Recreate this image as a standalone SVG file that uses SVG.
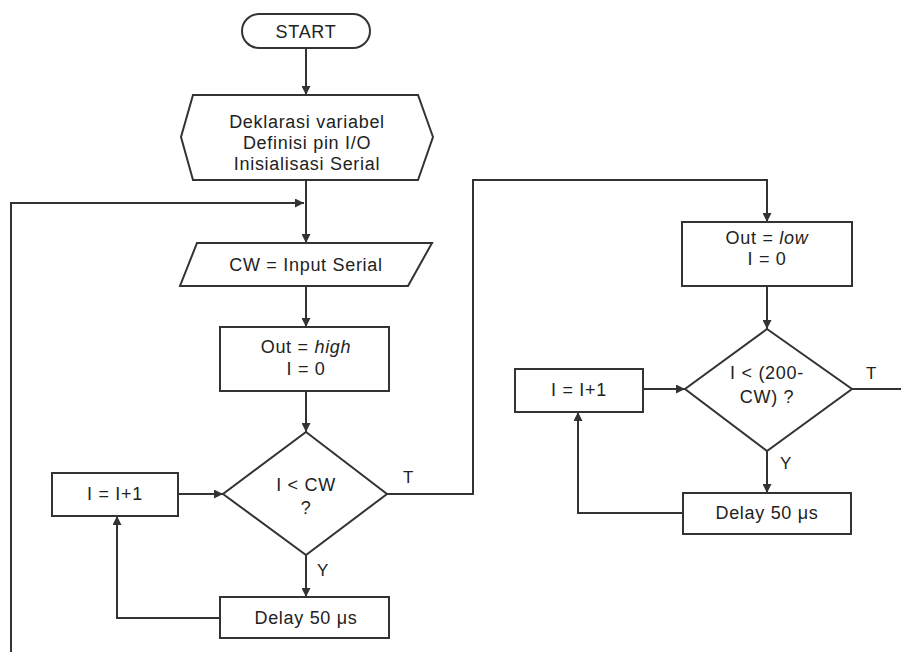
<svg xmlns="http://www.w3.org/2000/svg" width="901" height="652" viewBox="0 0 901 652">
<defs>
<marker id="ah" viewBox="0 0 10 10" refX="10" refY="5" markerWidth="10" markerHeight="9" markerUnits="userSpaceOnUse" orient="auto">
<path d="M0,0 L10,5 L0,10 z" fill="#333"/>
</marker>
<style>
.s{fill:#fff;stroke:#333;stroke-width:2}
.c{fill:none;stroke:#333;stroke-width:2}
.a{marker-end:url(#ah)}
text{font-family:"Liberation Sans",Arial,sans-serif;font-size:18px;fill:#222;text-anchor:middle;letter-spacing:0.7px}
.lb{font-size:17px;text-anchor:start}
</style>
</defs>
<rect width="901" height="652" fill="#fff"/>
<g id="connectors">
<line class="c a" x1="306" y1="48" x2="306" y2="95"/>
<line class="c a" x1="306" y1="180" x2="306" y2="243"/>
<polyline class="c a" points="11,652 11,203 304,203"/>
<line class="c a" x1="306" y1="286" x2="306" y2="327"/>
<line class="c a" x1="306" y1="391" x2="306" y2="432"/>
<line class="c a" x1="178" y1="494" x2="223" y2="494"/>
<line class="c a" x1="306" y1="555" x2="306" y2="597"/>
<polyline class="c a" points="220,618 117,618 117,516"/>
<polyline class="c a" points="387,494 473,494 473,180 767,180 767,222"/>
<line class="c a" x1="767" y1="286" x2="767" y2="329"/>
<line class="c a" x1="643" y1="389" x2="685" y2="389"/>
<line class="c a" x1="767" y1="451" x2="767" y2="493"/>
<polyline class="c a" points="683,513 578,513 578,412"/>
<line class="c" x1="852" y1="389" x2="901" y2="389"/>
<text class="lb" x="403" y="483">T</text>
<text class="lb" x="317" y="576">Y</text>
<text class="lb" x="866" y="379">T</text>
<text class="lb" x="780" y="469">Y</text>
</g>
<g id="start">
<rect class="s" x="242" y="14" width="128" height="34" rx="17"/>
<text x="306" y="38">START</text>
</g>
<g id="init">
<polygon class="s" points="193,95 418,95 433,137 418,180 193,180 181,137"/>
<text x="307" y="128">Deklarasi variabel</text>
<text x="307" y="149">Definisi pin I/O</text>
<text x="307" y="170">Inisialisasi Serial</text>
</g>
<g id="input">
<polygon class="s" points="197,243 432,243 408,286 180,286"/>
<text x="306" y="271">CW = Input Serial</text>
</g>
<g id="outhigh">
<rect class="s" x="220" y="327" width="169" height="64"/>
<text x="306" y="353">Out = <tspan font-style="italic">high</tspan></text>
<text x="306" y="375">I = 0</text>
</g>
<g id="dec1">
<polygon class="s" points="306,432 387,494 306,555 223,494"/>
<text x="306" y="491">I &lt; CW</text>
<text x="306" y="514">?</text>
</g>
<g id="inc1">
<rect class="s" x="52" y="473" width="126" height="43"/>
<text x="115" y="500">I = I+1</text>
</g>
<g id="delay1">
<rect class="s" x="220" y="597" width="169" height="41"/>
<text x="306" y="624">Delay 50 μs</text>
</g>
<g id="outlow">
<rect class="s" x="682" y="222" width="170" height="64"/>
<text x="767" y="244">Out = <tspan font-style="italic">low</tspan></text>
<text x="767" y="265">I = 0</text>
</g>
<g id="dec2">
<polygon class="s" points="767,329 852,389 767,451 685,389"/>
<text x="767" y="379">I &lt; (200-</text>
<text x="767" y="403">CW) ?</text>
</g>
<g id="inc2">
<rect class="s" x="515" y="369" width="128" height="43"/>
<text x="579" y="396">I = I+1</text>
</g>
<g id="delay2">
<rect class="s" x="683" y="493" width="168" height="41"/>
<text x="767" y="519">Delay 50 μs</text>
</g>
</svg>
